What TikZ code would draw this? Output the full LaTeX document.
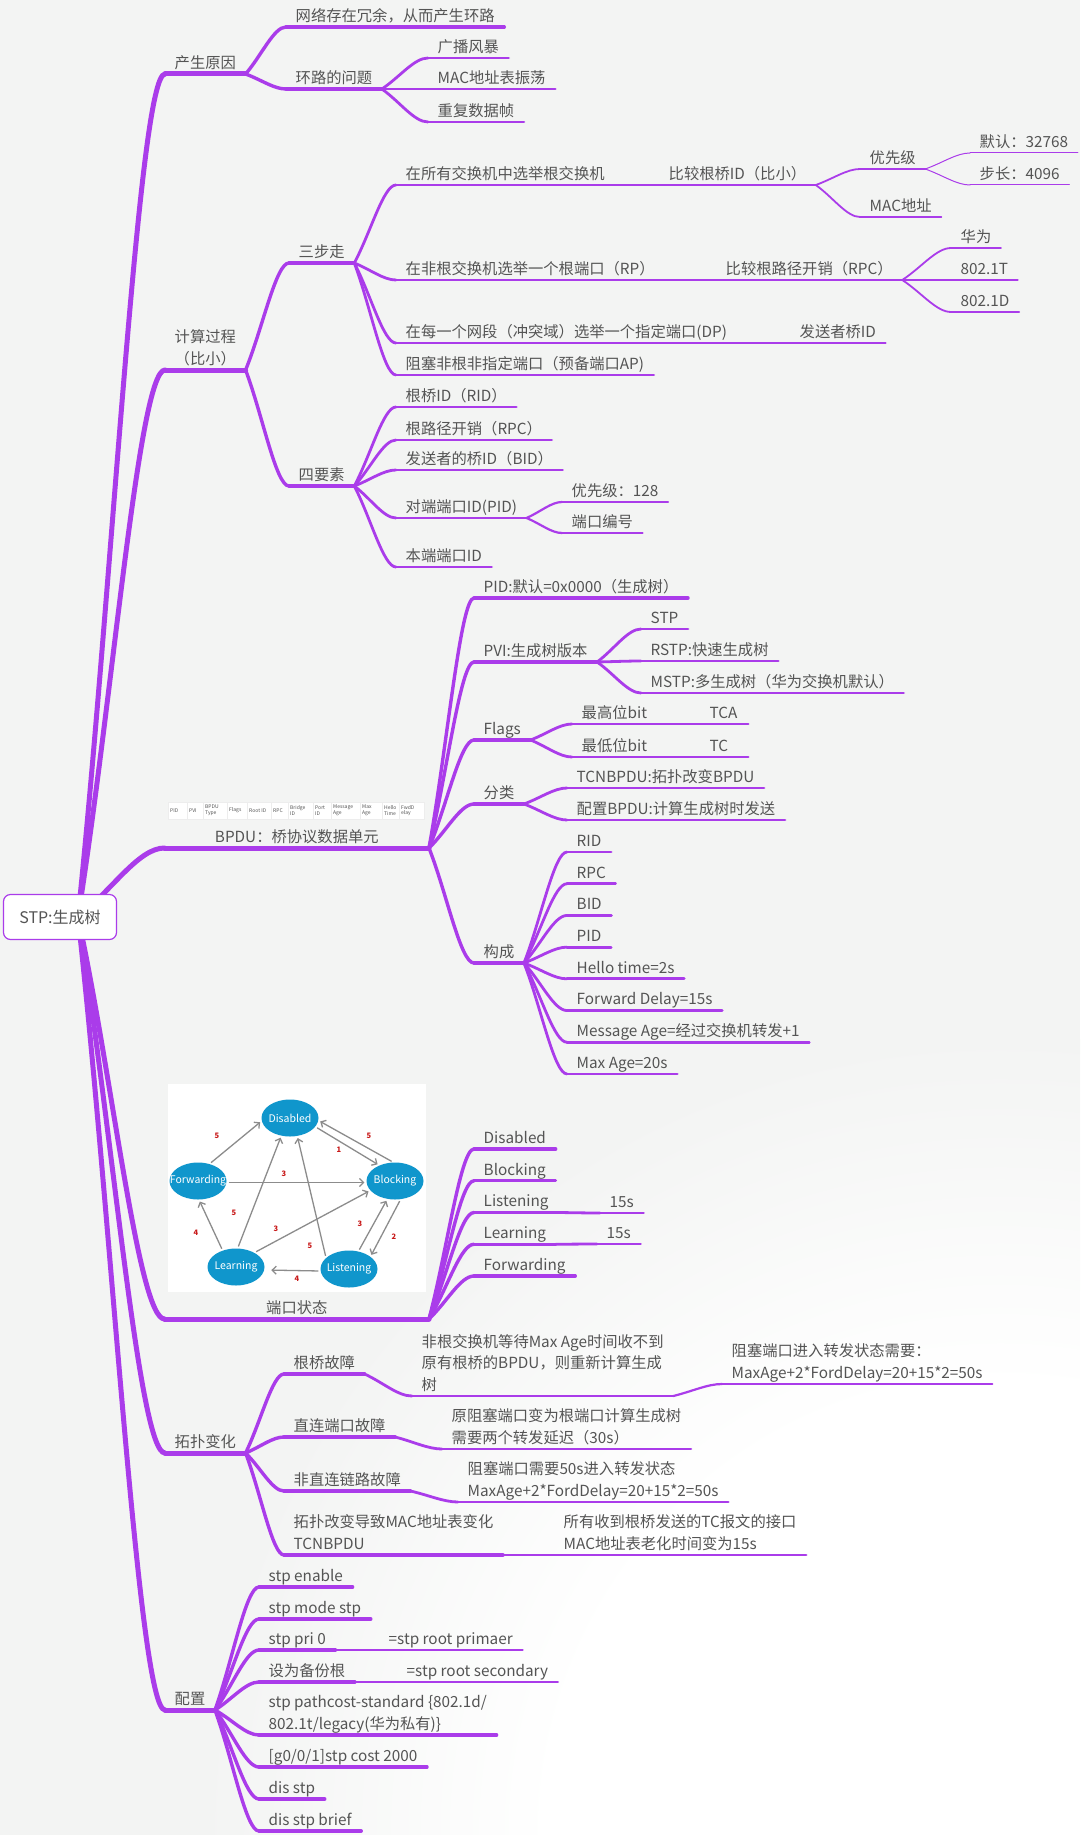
\documentclass[tikz,border=0pt]{standalone}
\usepackage{fontspec}
\setmainfont{Noto Sans CJK SC}
\usetikzlibrary{arrows.meta}
\usetikzlibrary{positioning}
\usetikzlibrary{calc}
\usetikzlibrary{shapes.geometric}

\definecolor{purp}{RGB}{170,60,234}
\definecolor{txt}{RGB}{84,84,84}
\definecolor{bgc}{RGB}{243,244,243}
\definecolor{stblue}{RGB}{16,150,204}
\definecolor{arrgray}{RGB}{140,140,140}
\definecolor{numred}{RGB}{200,24,24}
\pgfdeclareradialshading{glow}{\pgfpoint{0bp}{0bp}}{color(0bp)=(white); color(14bp)=(white); color(25bp)=(bgc); color(50bp)=(bgc)}

\begin{document}
\begin{tikzpicture}[x=1pt,y=-1pt,font=\fontsize{15.3}{21.5}\selectfont,
    topic/.style={text=txt, inner xsep=9.5pt, inner ysep=2.5pt, text depth=3pt, anchor=south west, align=left},
    br/.style={to path={let \p1=(\tikztostart), \p2=(\tikztotarget) in
        .. controls ({\x1+0.4*(\x2-\x1)},{\y1+0.4*(\y2-\y1)}) and ({\x1+0.7*(\x2-\x1)},\y2) .. (\tikztotarget)}},
    l1/.style={draw=purp, line width=5pt, line cap=round},
    l2/.style={draw=purp, line width=3.4pt, line cap=round},
    l3/.style={draw=purp, line width=2.8pt, line cap=round},
    l4/.style={draw=purp, line width=2.2pt, line cap=round},
    l5/.style={draw=purp, line width=1.8pt, line cap=round},
    l6/.style={draw=purp, line width=1pt, line cap=round}]
    \tikzstyle{st}=[ellipse, fill=stblue, text=white, minimum width=57, minimum height=37, inner sep=0pt, font=\fontsize{10.5}{12}\selectfont]
    \tikzstyle{ar}=[draw=arrgray, line width=1.3pt, -{Straight Barb[length=4pt,width=8pt]}, shorten <=2pt, shorten >=2pt]
    \tikzstyle{num}=[text=numred, inner sep=0pt, font=\fontsize{7.5}{9}\selectfont\bfseries]
    \tikzstyle{cell}=[anchor=west, align=left, inner sep=0pt, text=txt, font=\fontsize{5}{5.6}\selectfont]

    \useasboundingbox (0,0) rectangle (1080,1835);
    \fill[bgc] (0,0) rectangle (1080,1835);
    \begin{scope}
        \clip (0,0) rectangle (1080,1835);
        \shade[shading=glow] (1000,1835) circle (800);
    \end{scope}

    \node[topic] (yy) at (165,74) {产生原因};
    \node[topic] (rongyu) at (286,27) {网络存在冗余，从而产生环路};
    \node[topic] (huanlu) at (286,89) {环路的问题};
    \node[topic] (fengbao) at (428,58) {广播风暴};
    \node[topic] (zhendang) at (428,89) {MAC地址表振荡};
    \node[topic] (chongfu) at (428,122) {重复数据帧};

    \node[topic, align=center] (jisuan) at (165,370) {计算过程\\（比小）};
    \node[topic] (sanbu) at (289,263) {三步走};
    \node[topic] (s1) at (396,185) {在所有交换机中选举根交换机};
    \node[topic] (s1a) at (659,185) {比较根桥ID（比小）};
    \node[topic] (yxj) at (860,169) {优先级};
    \node[topic] (moren) at (970,153) {默认：32768};
    \node[topic] (buchang) at (970,185) {步长：4096};
    \node[topic] (mac2) at (860,217) {MAC地址};
    \node[topic] (s2) at (396,280) {在非根交换机选举一个根端口（RP）};
    \node[topic] (s2a) at (716,280) {比较根路径开销（RPC）};
    \node[topic] (hw) at (951,248) {华为};
    \node[topic] (t1) at (951,280) {802.1T};
    \node[topic] (d1) at (951,312) {802.1D};
    \node[topic] (s3) at (396,343) {在每一个网段（冲突域）选举一个指定端口(DP)};
    \node[topic] (s3a) at (790,343) {发送者桥ID};
    \node[topic] (s4) at (396,375) {阻塞非根非指定端口（预备端口AP)};
    \node[topic] (sys) at (289,486) {四要素};
    \node[topic] (rid) at (396,407) {根桥ID（RID）};
    \node[topic] (rpc) at (396,440) {根路径开销（RPC）};
    \node[topic] (bid) at (396,470) {发送者的桥ID（BID）};
    \node[topic] (pid) at (396,518) {对端端口ID(PID)};
    \node[topic] (pri) at (562,502) {优先级：128};
    \node[topic] (pnum) at (562,533) {端口编号};
    \node[topic] (lid) at (396,567) {本端端口ID};

    \node[topic, anchor=south east, minimum width=264, align=center] (bpdu) at (429,848) {BPDU：桥协议数据单元};
    \foreach \a/\b/\t [count=\i] in {168/187/PID, 187/203/PVI, 203/227/{BPDU\\Type}, 227/247/Flags, 247/271/{Root ID}, 271/288/RPC, 288/313/{Bridge\\ID}, 313/331/{Port\\ID}, 331/360/{Message\\Age}, 360/382/{Max\\Age}, 382/399/{Hello\\Time}, 399/424/{FwdD\\elay}} {
        \filldraw[fill=white, draw=black!7, line width=0.4pt] (\a,802) rectangle (\b,819);
        \node[cell] (c\i) at (\a+2,810.5) {\t};
    }
    \node[topic] (pidb) at (474,598) {PID:默认=0x0000（生成树）};
    \node[topic] (pvi) at (474,662) {PVI:生成树版本};
    \node[topic] (stp) at (641,629) {STP};
    \node[topic] (rstp) at (641,661) {RSTP:快速生成树};
    \node[topic] (mstp) at (641,693) {MSTP:多生成树（华为交换机默认）};
    \node[topic] (flags) at (474,740) {Flags};
    \node[topic] (hi) at (572,724) {最高位bit};
    \node[topic, text width=29pt] (tca) at (700,724) {TCA};
    \node[topic] (lo) at (572,757) {最低位bit};
    \node[topic, text width=29pt] (tc) at (700,757) {TC};
    \node[topic] (fenlei) at (474,804) {分类};
    \node[topic] (tcn) at (567,788) {TCNBPDU:拓扑改变BPDU};
    \node[topic] (cfgb) at (567,820) {配置BPDU:计算生成树时发送};
    \node[topic] (gc) at (474,963) {构成};
    \foreach \t [count=\i] in {RID,RPC,BID,PID,Hello time=2s,Forward Delay=15s,Message Age=经过交换机转发+1,Max Age=20s}
        \node[topic] (g\i) at (567,{852+31.71*(\i-1)}) {\t};

    \node[topic, anchor=south east, minimum width=264] (port) at (429,1319) {端口状态};
    \fill[white] (168,1084) rectangle (426,1292);
    \node[st] (dis) at (290,1118) {\makebox[0pt]{Disabled}};
    \node[st] (fwd) at (198,1181) {\makebox[0pt]{Forwarding}};
    \node[st] (blk) at (395,1181) {\makebox[0pt]{Blocking}};
    \node[st] (lrn) at (236,1267) {\makebox[0pt]{Learning}};
    \node[st] (lis) at (349,1269) {\makebox[0pt]{Listening}};
    \draw[ar] (fwd.56) -- (dis.186);
    \draw[ar] (dis.-19) -- (blk.135);
    \draw[ar] (blk.95) -- (dis.-5);
    \draw[ar] (fwd.-3) -- (blk.183);
    \draw[ar] (lrn.129) -- (fwd.-87);
    \draw[ar] (lrn.85) -- (dis.244);
    \draw[ar] (lrn.38) -- (blk.201);
    \draw[ar] (lis.154) -- (dis.292);
    \draw[ar] (lis.62) -- (blk.247);
    \draw[ar] (blk.287) -- (lis.30);
    \draw[ar, shorten >=7pt] (lis.184) -- (lrn.-6);
    \foreach \x/\y/\t [count=\i] in {217/1136/5, 339/1150/1, 369/1136/5, 284/1174/3, 196/1233/4, 234/1213/5, 276/1229/3, 310/1246/5, 360/1224/3, 394/1237/2, 297/1279/4}
        \node[num] (k\i) at (\x,\y) {\t};
    \foreach \n/\t [count=\i] in {sdis/Disabled, sblk/Blocking, slis/Listening, slrn/Learning, sfwd/Forwarding}
        \node[topic] (\n) at (474,{1149+31.75*(\i-1)}) {\t};
    \node[topic] (lis15) at (600,1213) {15s};
    \node[topic] (lrn15) at (597,1244) {15s};

    \node[topic] (topo) at (165,1453) {拓扑变化};
    \node[topic] (rootfail) at (284,1374) {根桥故障};
    \node[topic] (rf1) at (412,1396) {非根交换机等待Max Age时间收不到\\原有根桥的BPDU，则重新计算生成\\树};
    \node[topic] (rf2) at (722,1384) {阻塞端口进入转发状态需要：\\MaxAge+2*FordDelay=20+15*2=50s};
    \node[topic] (direct) at (284,1437) {直连端口故障};
    \node[topic] (df1) at (442,1449) {原阻塞端口变为根端口计算生成树\\需要两个转发延迟（30s）};
    \node[topic] (indirect) at (284,1491) {非直连链路故障};
    \node[topic] (if1) at (458,1502) {阻塞端口需要50s进入转发状态\\MaxAge+2*FordDelay=20+15*2=50s};
    \node[topic] (tcmac) at (284,1555) {拓扑改变导致MAC地址表变化\\TCNBPDU};
    \node[topic] (tc1) at (554,1555) {所有收到根桥发送的TC报文的接口\\MAC地址表老化时间变为15s};

    \node[topic] (conf) at (165,1710) {配置};
    \node[topic] (cen) at (259,1587) {stp enable};
    \node[topic] (cmode) at (259,1619) {stp mode stp};
    \node[topic] (cpri) at (259,1650) {stp pri 0};
    \node[topic] (prim) at (379,1650) {=stp root primaer};
    \node[topic] (cbak) at (259,1682) {设为备份根};
    \node[topic] (sec) at (397,1682) {=stp root secondary};
    \node[topic] (cpcs) at (259,1735) {stp pathcost-standard \{802.1d/\\802.1t/legacy(华为私有)\}};
    \node[topic] (ccost) at (259,1767) {[g0/0/1]stp cost 2000};
    \node[topic] (cdis) at (259,1799) {dis stp};
    \node[topic] (cbrief) at (259,1831) {dis stp brief};

    \foreach \n in {yy,jisuan,bpdu,port,topo,conf}
        \draw[l1] (\n.south west) -- (\n.south east);
    \foreach \n in {rongyu,huanlu,sanbu,sys,pidb,pvi,flags,fenlei,gc,sdis,sblk,slis,slrn,sfwd,rootfail,direct,indirect,tcmac,cen,cmode,cpri,cbak,cpcs,ccost,cdis,cbrief}
        \draw[l2] (\n.south west) -- (\n.south east);
    \foreach \n in {fengbao,zhendang,chongfu,s1,s2,s3,s4,rid,rpc,bid,pid,lid,stp,rstp,mstp,hi,lo,tcn,cfgb,g1,g2,g3,g4,g5,g6,g7,g8,lis15,lrn15,rf1,df1,if1,tc1,prim,sec}
        \draw[l3] (\n.south west) -- (\n.south east);
    \foreach \n in {s1a,s2a,s3a,pri,pnum,tca,tc,rf2}
        \draw[l4] (\n.south west) -- (\n.south east);
    \foreach \n in {yxj,mac2,hw,t1,d1}
        \draw[l5] (\n.south west) -- (\n.south east);
    \foreach \n in {moren,buchang}
        \draw[l6] (\n.south west) -- (\n.south east);

    \coordinate (rt) at (78,917);
    \foreach \b in {yy,jisuan,bpdu,port,topo,conf}
        \draw[l1] (rt) to[br] (\b.south west);
    \foreach \a/\b in {yy/rongyu,yy/huanlu,jisuan/sanbu,jisuan/sys,bpdu/pidb,bpdu/pvi,bpdu/flags,bpdu/fenlei,bpdu/gc,port/sdis,port/sblk,port/slis,port/slrn,port/sfwd,topo/rootfail,topo/direct,topo/indirect,topo/tcmac,conf/cen,conf/cmode,conf/cpri,conf/cbak,conf/cpcs,conf/ccost,conf/cdis,conf/cbrief}
        \draw[l2] (\a.south east) to[br] (\b.south west);
    \foreach \a/\b in {huanlu/fengbao,huanlu/zhendang,huanlu/chongfu,sanbu/s1,sanbu/s2,sanbu/s3,sanbu/s4,sys/rid,sys/rpc,sys/bid,sys/pid,sys/lid,pvi/stp,pvi/rstp,pvi/mstp,flags/hi,flags/lo,fenlei/tcn,fenlei/cfgb,gc/g1,gc/g2,gc/g3,gc/g4,gc/g5,gc/g6,gc/g7,gc/g8,slis/lis15,slrn/lrn15,rootfail/rf1,direct/df1,indirect/if1,tcmac/tc1,cpri/prim,cbak/sec}
        \draw[l3] (\a.south east) to[br] (\b.south west);
    \foreach \a/\b in {s1/s1a,s2/s2a,s3/s3a,pid/pri,pid/pnum,hi/tca,lo/tc,rf1/rf2}
        \draw[l4] (\a.south east) to[br] (\b.south west);
    \foreach \a/\b in {s1a/yxj,s1a/mac2,s2a/hw,s2a/t1,s2a/d1}
        \draw[l5] (\a.south east) to[br] (\b.south west);
    \foreach \a/\b in {yxj/moren,yxj/buchang}
        \draw[l6] (\a.south east) to[br] (\b.south west);

    \node[draw=purp, line width=1.2pt, fill=white, rounded corners=7pt, minimum width=113, minimum height=45, text=txt, font=\fontsize{16}{18}\selectfont] (root) at (60,917) {STP:生成树};
\end{tikzpicture}
\end{document}
